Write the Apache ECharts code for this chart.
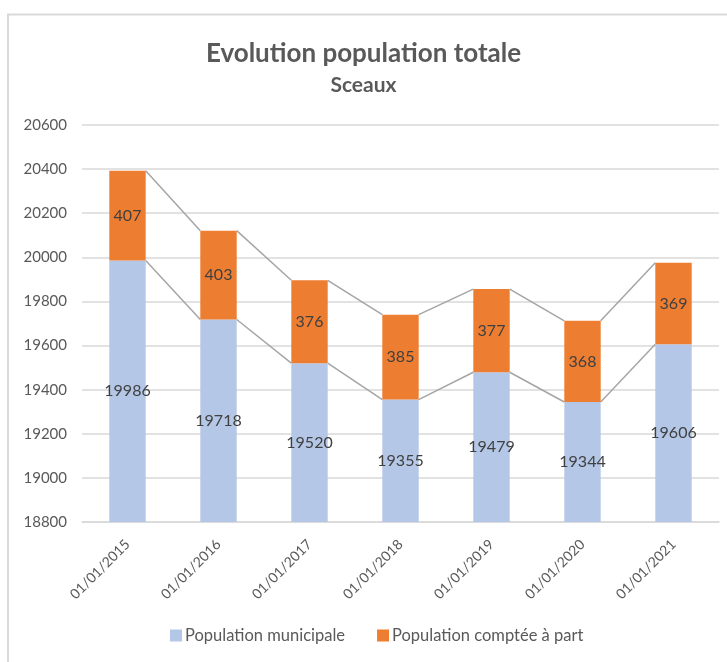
<!DOCTYPE html>
<html><head><meta charset="utf-8">
<script src="https://cdn.jsdelivr.net/npm/echarts@6/dist/echarts.min.js"></script>
<style>html,body{margin:0;padding:0;background:#fff}#c{width:727px;height:662px}</style>
</head><body><div id="c"></div>
<script>
const categories = ['01/01/2015','01/01/2016','01/01/2017','01/01/2018','01/01/2019','01/01/2020','01/01/2021'];
const popMunicipale = [19986, 19718, 19520, 19355, 19479, 19344, 19606];
const popAPart = [407, 403, 376, 385, 377, 368, 369];
const totals = popMunicipale.map((v, i) => v + popAPart[i]);
const FONT = 'Lato, "Open Sans", sans-serif';
const BAR_FRAC = 0.4;

const chart = echarts.init(document.getElementById('c'));
chart.setOption({
  animation: false,
  textStyle: { fontFamily: FONT },
  graphic: [{ type: 'rect', shape: { x: 8, y: 14.5, width: 740, height: 660 }, style: { fill: 'none', stroke: '#d9d9d9', lineWidth: 2 }, silent: true }],
  title: [
    { text: 'Evolution population totale', left: 'center', top: 36, textStyle: { fontFamily: FONT, fontSize: 26, fontWeight: 'bold', color: '#595959' } },
    { text: 'Sceaux', left: 'center', top: 70, textStyle: { fontFamily: FONT, fontSize: 21, fontWeight: 'bold', color: '#595959' } }
  ],
  legend: {
    bottom: 13, left: 165, itemWidth: 12, itemHeight: 12, itemGap: 32,
    icon: 'rect',
    textStyle: { fontFamily: FONT, fontSize: 16.5, color: '#595959', padding: [0, 0, 0, -2] },
    data: ['Population municipale', 'Population comptée à part']
  },
  grid: { left: 82, right: 8, top: 125, bottom: 140 },
  xAxis: {
    type: 'category', data: categories,
    axisLine: { lineStyle: { color: '#d9d9d9', width: 1.5 } },
    axisTick: { show: false },
    axisLabel: { rotate: 45, fontSize: 14, color: '#595959', margin: 20, interval: 0 }
  },
  yAxis: {
    type: 'value', min: 18800, max: 20600, interval: 200,
    axisLine: { show: false }, axisTick: { show: false },
    splitLine: { lineStyle: { color: '#d9d9d9', width: 1.5 } },
    axisLabel: { fontSize: 15, color: '#595959', margin: 15, formatter: v => String(v) }
  },
  series: [
    {
      name: 'Population municipale', type: 'bar', stack: 'pop', data: popMunicipale,
      barWidth: '40%', itemStyle: { color: '#b4c7e7' },
      label: { show: true, position: 'inside', fontSize: 16, color: '#404040', fontFamily: FONT }
    },
    {
      name: 'Population comptée à part', type: 'bar', stack: 'pop', data: popAPart,
      barWidth: '40%', itemStyle: { color: '#ed7d31' },
      label: { show: true, position: 'inside', fontSize: 16, color: '#404040', fontFamily: FONT }
    },
    {
      name: 'seriesLines', type: 'custom', silent: true, z: 1,
      data: popMunicipale.slice(0, -1).map((v, i) => [i, v, popMunicipale[i + 1], totals[i], totals[i + 1]]),
      encode: { x: 0, y: 1 },
      renderItem: function (params, api) {
        const i = api.value(0);
        const half = api.size([1, 0])[0] * BAR_FRAC / 2;
        const a1 = api.coord([i, api.value(1)]);
        const a2 = api.coord([i + 1, api.value(2)]);
        const b1 = api.coord([i, api.value(3)]);
        const b2 = api.coord([i + 1, api.value(4)]);
        const st = { stroke: '#a5a5a5', lineWidth: 1.5 };
        return { type: 'group', children: [
          { type: 'line', shape: { x1: a1[0] + half, y1: a1[1], x2: a2[0] - half, y2: a2[1] }, style: st },
          { type: 'line', shape: { x1: b1[0] + half, y1: b1[1], x2: b2[0] - half, y2: b2[1] }, style: st }
        ]};
      }
    }
  ]
});
</script></body></html>
